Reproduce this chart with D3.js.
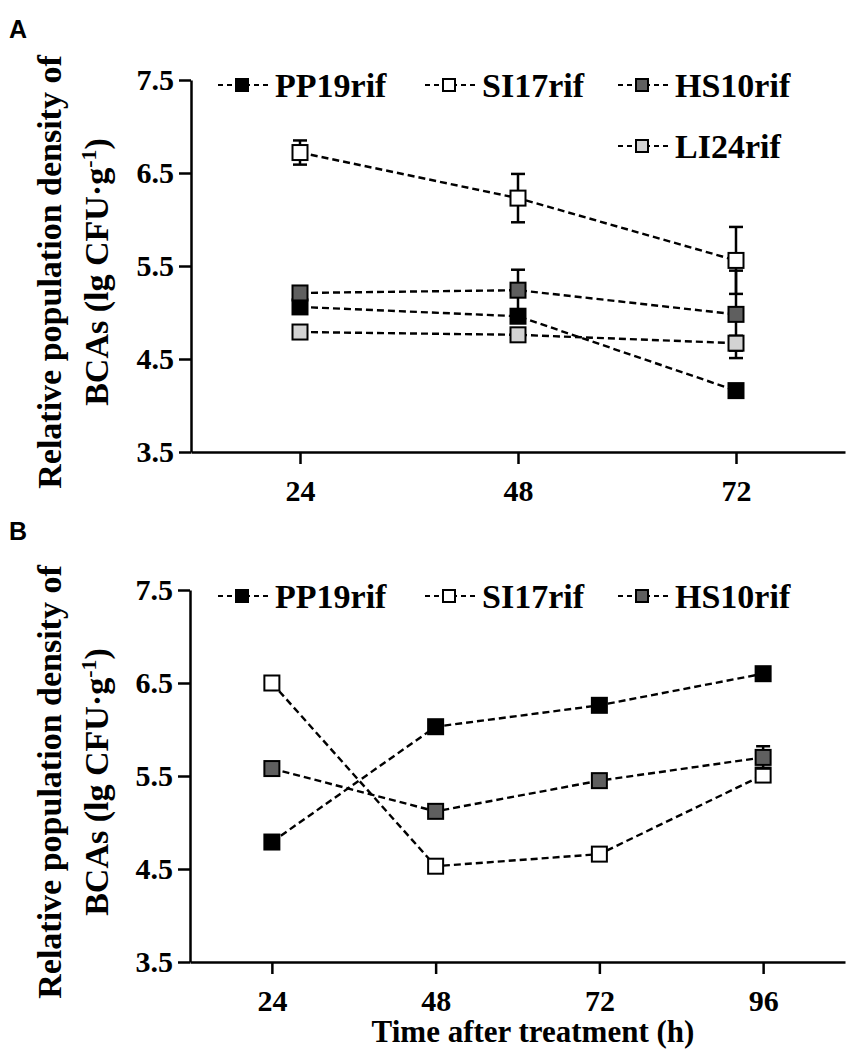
<!DOCTYPE html>
<html>
<head>
<meta charset="utf-8">
<script src="https://cdn.jsdelivr.net/npm/d3@7/dist/d3.min.js"></script>
<style>
  body { margin: 0; background: #fff; }
  svg text { font-family: "Liberation Serif", "Times New Roman", serif; font-weight: bold; fill: #000; }
  .axis path, .axis line { stroke: #000; stroke-width: 2.5; }
  .axis text { font-size: 30px; }
  .panel-letter { font-family: "Liberation Sans", Arial, sans-serif !important; font-size: 25px; }
</style>
</head>
<body>
<svg id="chart" width="854" height="1058"></svg>
<script>
// ---- data ----
const yTicks = [3.5, 4.5, 5.5, 6.5, 7.5]
const seriesNames = ["PP19rif", "SI17rif", "HS10rif", "LI24rif"]
const seriesFills = ["#000000", "#ffffff", "#5f5f5f", "#d3d3d3"]

// panel A
const timesA = [24, 48, 72]
const pp19A = [5.06, 4.96, 4.16]
const pp19AErr = [0, 0, 0]
const si17A = [6.72, 6.23, 5.56]
const si17AErr = [0.13, 0.26, 0.36]
const hs10A = [5.21, 5.24, 4.98]
const hs10AErr = [0, 0.22, 0.47]
const li24A = [4.79, 4.76, 4.67]
const li24AErr = [0, 0, 0.08]

// panel B
const timesB = [24, 48, 72, 96]
const pp19B = [4.79, 6.03, 6.26, 6.60]
const pp19BErr = [0, 0, 0, 0]
const si17B = [6.50, 4.53, 4.66, 5.51]
const si17BErr = [0, 0, 0, 0]
const hs10B = [5.58, 5.12, 5.45, 5.70]
const hs10BErr = [0, 0, 0, 0.12]

let svg = d3.select("#chart")

function buildSeries(times, valueLists, errLists) {
    return valueLists.map(function (vals, i) {
        return {
            name: seriesNames[i],
            fill: seriesFills[i],
            points: times.map(function (t, j) { return {x: t, y: vals[j], e: errLists[i][j]} })
        }
    })
}

function drawPanel(cfg) {
    let g = svg.append("g")
    let xScale = d3.scaleLinear().domain(cfg.xDomain).range([cfg.left, cfg.right])
    let yScale = d3.scaleLinear().domain([3.5, 7.5]).range([cfg.bottom, cfg.top])

    // axes
    let x_axis = d3.axisBottom(xScale).tickValues(cfg.times).tickSizeInner(12).tickSizeOuter(0).tickPadding(16)
    let y_axis = d3.axisLeft(yScale).tickValues(yTicks).tickSizeInner(12).tickSizeOuter(0).tickPadding(5)
        .tickFormat(d3.format(".1f"))
    g.append("g").attr("class", "axis")
        .attr("transform", `translate(0,${cfg.bottom})`)
        .call(x_axis)
    g.append("g").attr("class", "axis")
        .attr("transform", `translate(${cfg.left},0)`)
        .call(y_axis)

    // y label, two lines
    let cy = (cfg.top + cfg.bottom) / 2 + 6
    g.append("text")
        .attr("transform", `translate(61,${cy}) rotate(-90)`)
        .attr("text-anchor", "middle")
        .style("font-size", "34px")
        .text("Relative population density of")
    let l2 = g.append("text")
        .attr("transform", `translate(108,${cy}) rotate(-90)`)
        .attr("text-anchor", "middle")
        .style("font-size", "34px")
    l2.append("tspan").text("BCAs (lg CFU·g")
    l2.append("tspan").attr("dy", -12).style("font-size", "22px").text("-1")
    l2.append("tspan").attr("dy", 12).text(")")

    // panel letter
    g.append("text").attr("class", "panel-letter")
        .attr("x", 9).attr("y", cfg.letterY)
        .text(cfg.letter)

    let line = d3.line().x(function (d) { return xScale(d.x) }).y(function (d) { return yScale(d.y) })

    // dashed connecting lines
    g.selectAll(".series-line")
        .data(cfg.series)
        .enter()
        .append("path")
        .attr("class", "series-line")
        .attr("d", function (d) { return line(d.points) })
        .attr("fill", "none")
        .attr("stroke", "#000")
        .attr("stroke-width", 2.4)
        .attr("stroke-dasharray", "7,4")

    let ms = 15
    cfg.series.forEach(function (s) {
        let sg = g.append("g")
        // error bars
        let eb = sg.selectAll(".err")
            .data(s.points.filter(function (p) { return p.e > 0 }))
            .enter().append("g").attr("class", "err")
        eb.append("line")
            .attr("x1", function (d) { return xScale(d.x) }).attr("x2", function (d) { return xScale(d.x) })
            .attr("y1", function (d) { return yScale(d.y + d.e) }).attr("y2", function (d) { return yScale(d.y - d.e) })
            .attr("stroke", "#000").attr("stroke-width", 2.5)
        eb.selectAll(".cap")
            .data(function (d) { return [d.y + d.e, d.y - d.e].map(function (v) { return {x: d.x, v: v} }) })
            .enter().append("line")
            .attr("x1", function (d) { return xScale(d.x) - 7 }).attr("x2", function (d) { return xScale(d.x) + 7 })
            .attr("y1", function (d) { return yScale(d.v) }).attr("y2", function (d) { return yScale(d.v) })
            .attr("stroke", "#000").attr("stroke-width", 2.5)
        // markers
        sg.selectAll(".marker")
            .data(s.points)
            .enter().append("rect")
            .attr("class", "marker")
            .attr("x", function (d) { return xScale(d.x) - ms / 2 })
            .attr("y", function (d) { return yScale(d.y) - ms / 2 })
            .attr("width", ms).attr("height", ms)
            .attr("fill", s.fill)
            .attr("stroke", "#000").attr("stroke-width", 2)
    })

    // legend
    cfg.series.forEach(function (s, i) {
        let pos = cfg.legendPos[i]
        let lg = g.append("g").attr("transform", `translate(${pos[0]},${pos[1]})`)
        lg.append("line").attr("x1", 0).attr("x2", 52).attr("y1", 0).attr("y2", 0)
            .attr("stroke", "#000").attr("stroke-width", 2).attr("stroke-dasharray", "5,4")
        lg.append("rect").attr("x", 18).attr("y", -6).attr("width", 12).attr("height", 12)
            .attr("fill", s.fill).attr("stroke", "#000").attr("stroke-width", 2)
        lg.append("text").attr("x", 57).attr("dy", "0.35em").style("font-size", "34px").text(s.name)
    })

    if (cfg.xTitle) {
        g.append("text")
            .attr("x", 533).attr("y", cfg.bottom + 80)
            .attr("text-anchor", "middle")
            .style("font-size", "31px")
            .text(cfg.xTitle)
    }
}

drawPanel({
    letter: "A", letterY: 38,
    times: timesA, xDomain: [12, 84],
    left: 191, right: 845, top: 80, bottom: 452,
    series: buildSeries(timesA, [pp19A, si17A, hs10A, li24A], [pp19AErr, si17AErr, hs10AErr, li24AErr]),
    legendPos: [[218, 85], [425, 85], [618, 85], [618, 146]]
})

drawPanel({
    letter: "B", letterY: 540,
    times: timesB, xDomain: [12, 108],
    left: 190, right: 845, top: 590, bottom: 962,
    series: buildSeries(timesB, [pp19B, si17B, hs10B], [pp19BErr, si17BErr, hs10BErr]),
    legendPos: [[218, 596], [425, 596], [618, 596]],
    xTitle: "Time after treatment (h)"
})
</script>
</body>
</html>
